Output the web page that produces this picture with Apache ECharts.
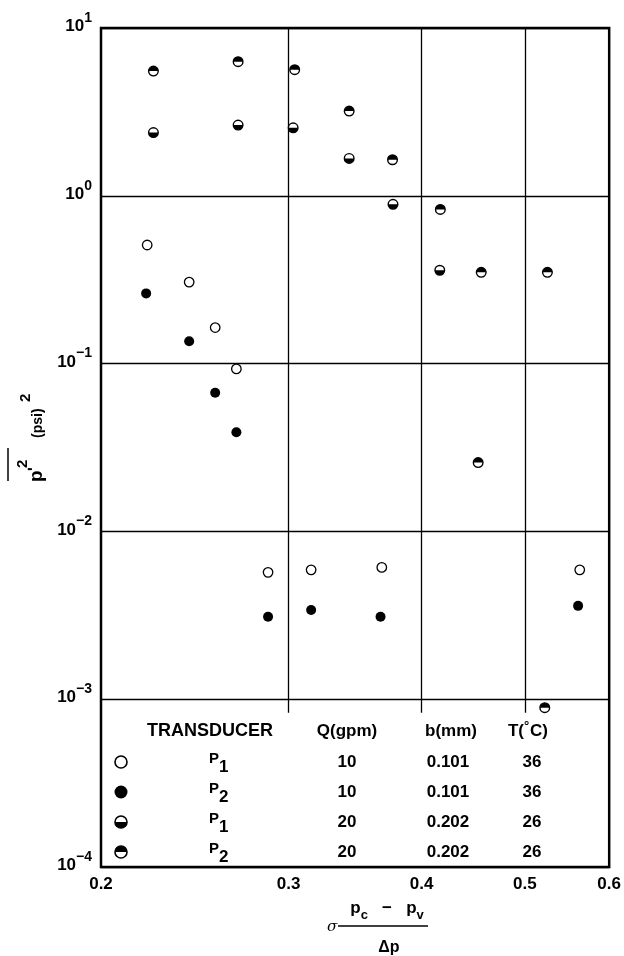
<!DOCTYPE html>
<html>
<head>
<meta charset="utf-8">
<script src="https://cdn.jsdelivr.net/npm/echarts@6/dist/echarts.min.js"></script>
<style>
html,body{margin:0;padding:0;background:#fff;}
#chart{width:624px;height:956px;}
</style>
</head>
<body>
<div id="chart"></div>
<script>
// ---- data ----
// Transducer P1, Q = 10 gpm (open circles)
const p1Q10 = [[0.221,0.509],[0.242,0.306],[0.256,0.164],[0.268,0.093],[0.287,0.0057],[0.315,0.0059],[0.367,0.0061],[0.563,0.0059]];
// Transducer P2, Q = 10 gpm (filled circles)
const p2Q10 = [[0.2205,0.262],[0.242,0.136],[0.256,0.067],[0.268,0.039],[0.287,0.0031],[0.315,0.0034],[0.366,0.0031],[0.561,0.0036]];
// Transducer P1, Q = 20 gpm (lower half filled)
const p1Q20 = [[0.224,2.38],[0.269,2.64],[0.303,2.54],[0.342,1.67],[0.376,0.89],[0.416,0.36]];
// Transducer P2, Q = 20 gpm (upper half filled)
const p2Q20 = [[0.224,5.54],[0.269,6.30],[0.304,5.64],[0.342,3.20],[0.3756,1.64],[0.4165,0.83],[0.455,0.35],[0.525,0.35],[0.452,0.0257],[0.522,0.00089]];

const xTicks = [0.2,0.3,0.4,0.5,0.6];
const xGridValues = [0.3,0.4,0.5];

// legend table
const tableHeader = ['TRANSDUCER','Q(gpm)','b(mm)','T(°C)'];
const tableTransducer = ['1','2','1','2'];
const tableQ = ['10','10','20','20'];
const tableB = ['0.101','0.101','0.202','0.202'];
const tableT = ['36','36','26','26'];
const tableSymbols = ['open','filled','bottomHalf','topHalf'];

const FONT = 'Liberation Sans, Arial, sans-serif';

const chart = echarts.init(document.getElementById('chart'), null, {renderer:'canvas'});

function halfRender(top){
  return function(params, api){
    const p = api.coord([api.value(0), api.value(1)]);
    const r = 4.8;
    return {type:'group', children:[
      {type:'circle', shape:{cx:p[0],cy:p[1],r:r}, style:{fill:'#fff',stroke:'#000',lineWidth:1.4}},
      {type:'sector', shape:{cx:p[0],cy:p[1],r0:0,r:r,startAngle: top?Math.PI:0,endAngle: top?2*Math.PI:Math.PI}, style:{fill:'#000'}}
    ]};
  };
}

// legend graphics
const graphics = [];
const rowY = [762,792,822,852];
const hdrY = 731;
const colX = {sym:121, tr:210, q:347, b:448, t:532};
const hdrFont = 'bold 17px '+FONT;
const cellFont = 'bold 17px '+FONT;
graphics.push({type:'text', x:210, y:hdrY, style:{text:tableHeader[0], font:'bold 18px '+FONT, fill:'#000', textAlign:'center', textVerticalAlign:'middle'}});
graphics.push({type:'text', x:347, y:hdrY, style:{text:tableHeader[1], font:hdrFont, fill:'#000', textAlign:'center', textVerticalAlign:'middle'}});
graphics.push({type:'text', x:451, y:hdrY, style:{text:tableHeader[2], font:hdrFont, fill:'#000', textAlign:'center', textVerticalAlign:'middle'}});
graphics.push({type:'text', x:524, y:hdrY, style:{text:'T(', font:hdrFont, fill:'#000', textAlign:'right', textVerticalAlign:'middle'}});
graphics.push({type:'text', x:524, y:hdrY-5, style:{text:'°', font:'bold 13px '+FONT, fill:'#000', textAlign:'left', textVerticalAlign:'middle'}});
graphics.push({type:'text', x:530, y:hdrY, style:{text:'C)', font:hdrFont, fill:'#000', textAlign:'left', textVerticalAlign:'middle'}});
for(let i=0;i<4;i++){
  const y = rowY[i];
  const s = tableSymbols[i];
  const r = 6;
  if(s==='open'){
    graphics.push({type:'circle', shape:{cx:colX.sym,cy:y,r:r}, style:{fill:'#fff',stroke:'#000',lineWidth:1.6}});
  } else if(s==='filled'){
    graphics.push({type:'circle', shape:{cx:colX.sym,cy:y,r:r+0.5}, style:{fill:'#000'}});
  } else {
    const top = s==='topHalf';
    graphics.push({type:'circle', shape:{cx:colX.sym,cy:y,r:r}, style:{fill:'#fff',stroke:'#000',lineWidth:1.6}});
    graphics.push({type:'sector', shape:{cx:colX.sym,cy:y,r0:0,r:r,startAngle: top?Math.PI:0,endAngle: top?2*Math.PI:Math.PI}, style:{fill:'#000'}});
  }
  graphics.push({type:'text', x:219, y:y-3, style:{text:'P', font:'bold 15px '+FONT, fill:'#000', textAlign:'right', textVerticalAlign:'middle'}});
  graphics.push({type:'text', x:219, y:y+5, style:{text:tableTransducer[i], font:'bold 17px '+FONT, fill:'#000', textAlign:'left', textVerticalAlign:'middle'}});
  graphics.push({type:'text', x:347, y:y, style:{text:tableQ[i], font:cellFont, fill:'#000', textAlign:'center', textVerticalAlign:'middle'}});
  graphics.push({type:'text', x:448, y:y, style:{text:tableB[i], font:cellFont, fill:'#000', textAlign:'center', textVerticalAlign:'middle'}});
  graphics.push({type:'text', x:532, y:y, style:{text:tableT[i], font:cellFont, fill:'#000', textAlign:'center', textVerticalAlign:'middle'}});
}

// x axis name: sigma (pc - pv)/Δp
graphics.push({type:'text', x:332, y:927, style:{text:'σ', font:'italic 15px DejaVu Serif, serif', fill:'#000', textAlign:'center', textVerticalAlign:'middle'}});
graphics.push({type:'text', x:387, y:911, style:{
  text:'{b|p}{s|c}{b|   −   p}{s|v}', textAlign:'center', textVerticalAlign:'middle', fill:'#000',
  rich:{b:{font:'bold 17px '+FONT, fill:'#000', verticalAlign:'top', lineHeight:22}, s:{font:'bold 13px '+FONT, fill:'#000', verticalAlign:'bottom', lineHeight:13}}
}});
graphics.push({type:'line', shape:{x1:338,y1:926,x2:428,y2:926}, style:{stroke:'#000', lineWidth:1.5}});
graphics.push({type:'text', x:389, y:948, style:{text:'Δp', font:'bold 16px '+FONT, fill:'#000', textAlign:'center', textVerticalAlign:'middle'}});

// y axis name: overline p' ^2 (psi)^2, rotated
graphics.push({type:'group', x:46, y:482, rotation:Math.PI/2, children:[
  {type:'text', x:0, y:0, style:{text:'p', font:'bold 19px '+FONT, fill:'#000', textAlign:'left', textVerticalAlign:'bottom'}},
  {type:'text', x:11, y:-3, style:{text:'ʹ', font:'bold 16px '+FONT, fill:'#000', textAlign:'left', textVerticalAlign:'bottom'}},
  {type:'text', x:14, y:-16, style:{text:'2', font:'bold 15px '+FONT, fill:'#000', textAlign:'left', textVerticalAlign:'bottom'}},
  {type:'line', shape:{x1:1,y1:-38,x2:34,y2:-38}, style:{stroke:'#000', lineWidth:1.5}},
  {type:'text', x:44, y:-1, style:{text:'(psi)', font:'bold 14px '+FONT, fill:'#000', textAlign:'left', textVerticalAlign:'bottom'}},
  {type:'text', x:80, y:-13, style:{text:'2', font:'bold 15px '+FONT, fill:'#000', textAlign:'left', textVerticalAlign:'bottom'}}
]});

const vLines = xGridValues.map(v => [{coord:[v,8.3e-4]},{coord:[v,10]}]);

const option = {
  backgroundColor:'#fff',
  animation:false,
  grid:{left:101, top:28, right:12, bottom:89, show:true, borderColor:'#000', borderWidth:2.5, backgroundColor:'transparent', containLabel:false},
  xAxis:{
    type:'log', logBase:10, min:0.2, max:0.6,
    axisLine:{show:false}, axisTick:{show:false}, splitLine:{show:false}, minorSplitLine:{show:false},
    axisLabel:{customValues:xTicks, formatter:v=>Number(v).toFixed(1), color:'#000', fontFamily:FONT, fontWeight:'bold', fontSize:17, margin:9, showMinLabel:true, showMaxLabel:true}
  },
  yAxis:{
    type:'log', logBase:10, min:1e-4, max:10,
    axisLine:{show:false}, axisTick:{show:false},
    splitLine:{show:true, lineStyle:{color:'#000', width:1.3}},
    axisLabel:{
      margin:9, color:'#000',
      formatter:function(v){
        const e = Math.round(Math.log10(v));
        return '{b|10}{s|' + (e<0 ? '−'+(-e) : String(e)) + '}';
      },
      rich:{
        b:{fontFamily:FONT, fontWeight:'bold', fontSize:17, color:'#000', verticalAlign:'middle', lineHeight:34, padding:[0,0,3,0]},
        s:{fontFamily:FONT, fontWeight:'bold', fontSize:14, color:'#000', verticalAlign:'top', lineHeight:12}
      }
    }
  },
  series:[
    {type:'scatter', name:'P1 10gpm', data:p1Q10, symbol:'circle', symbolSize:9.5,
     itemStyle:{color:'#fff', borderColor:'#000', borderWidth:1.3, opacity:1}, z:5,
     markLine:{silent:true, symbol:['none','none'], label:{show:false}, lineStyle:{color:'#000', width:1.3, type:'solid'}, data:vLines, z:1}},
    {type:'scatter', name:'P2 10gpm', data:p2Q10, symbol:'circle', symbolSize:10,
     itemStyle:{color:'#000', borderWidth:0, opacity:1}, z:5},
    {type:'custom', name:'P1 20gpm', data:p1Q20, renderItem:halfRender(false), z:5},
    {type:'custom', name:'P2 20gpm', data:p2Q20, renderItem:halfRender(true), z:5}
  ],
  graphic:graphics
};
chart.setOption(option);
</script>
</body>
</html>
